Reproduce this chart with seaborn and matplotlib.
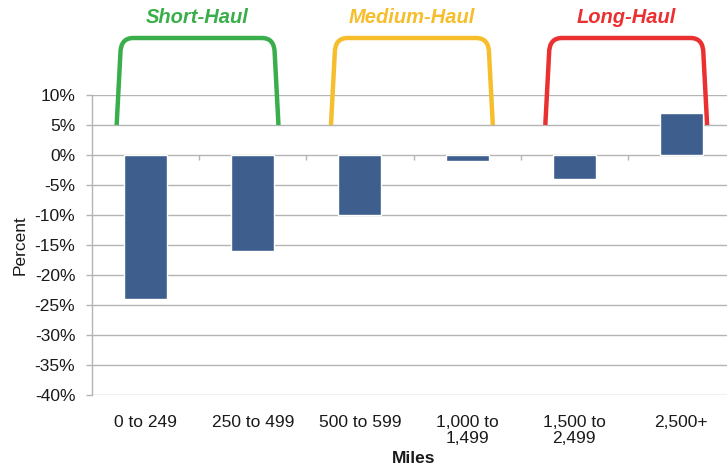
import numpy as np
import matplotlib
matplotlib.use("Agg")
import matplotlib.pyplot as plt
import seaborn as sns
import pandas as pd
from matplotlib.path import Path
from matplotlib.patches import PathPatch
from matplotlib.ticker import FuncFormatter

# data
categories = ["0 to 249", "250 to 499", "500 to 599", "1,000 to\n1,499", "1,500 to\n2,499", "2,500+"]
values = [-24, -16, -10, -1, -4, 7]
groups = ["Short-Haul", "Medium-Haul", "Long-Haul"]
group_colors = ["#3aae4a", "#f6be2c", "#ea3030"]
group_start = [0, 2, 4]  # first category index of each group

df = pd.DataFrame({"Miles": categories, "Percent": values})

sns.set_style("white")
plt.rcParams["font.family"] = ["Liberation Sans", "DejaVu Sans"]

fig = plt.figure(figsize=(7.27, 4.72), dpi=100)
ax = fig.add_axes([92 / 727, 1 - 395 / 472, (735 - 92) / 727, 300 / 472])

sns.barplot(data=df, x="Miles", y="Percent", color="#3e5f8e", width=0.4,
            saturation=1, ax=ax, zorder=3)

ax.set_ylim(-40, 10)
ax.set_xlim(-0.5, len(categories) - 0.5)
ax.set_yticks(np.arange(-40, 11, 5))
ax.yaxis.set_major_formatter(FuncFormatter(lambda v, p: f"{v:.0f}%"))
ax.yaxis.grid(True, color="#b4b4b4", lw=1.0)
ax.set_axisbelow(True)

for s in ["top", "right", "bottom"]:
    ax.spines[s].set_visible(False)
ax.spines["left"].set_color("#b4b4b4")
ax.spines["left"].set_linewidth(1.0)

ax.tick_params(axis="y", left=True, length=4, color="#b4b4b4", width=1,
               labelsize=12.5, pad=8, labelcolor="#1a1a1a")
ax.tick_params(axis="x", bottom=False, labelsize=12.5, pad=11, labelcolor="#1a1a1a")
for lab in ax.get_xticklabels():
    lab.set_linespacing(1.1)

# category boundary ticks on the zero line
bounds = np.arange(0.5, len(categories) - 0.5, 1)
ax.vlines(bounds, -0.8, 0, color="#b4b4b4", lw=1, zorder=2)

ax.set_ylabel("Percent", fontsize=12.5, labelpad=5, color="#1a1a1a")
ax.set_xlabel("Miles", fontsize=12.5, fontweight="bold", labelpad=3, color="#1a1a1a")

# brackets above the chart
y0, y1 = 5, 19.5
rx, ry = 0.12, 2.6
for name, col, g in zip(groups, group_colors, group_start):
    xa, xb = g - 0.27, g + 1.24
    verts = [(xa, y0), (xa + 0.035, y1 - ry), (xa + 0.035, y1), (xa + 0.035 + rx, y1),
             (xb - 0.035 - rx, y1), (xb - 0.035, y1), (xb - 0.035, y1 - ry), (xb, y0)]
    codes = [Path.MOVETO, Path.LINETO, Path.CURVE3, Path.CURVE3,
             Path.LINETO, Path.CURVE3, Path.CURVE3, Path.LINETO]
    patch = PathPatch(Path(verts, codes), fill=False, edgecolor=col, lw=3.2,
                      capstyle="butt", joinstyle="round", clip_on=False, zorder=4)
    ax.add_patch(patch)
    ax.text((xa + xb) / 2, 22.9, name, color=col, fontsize=14.5, fontweight="bold",
            fontstyle="italic", ha="center", va="center", clip_on=False)

fig.savefig("out.png", dpi=100)
